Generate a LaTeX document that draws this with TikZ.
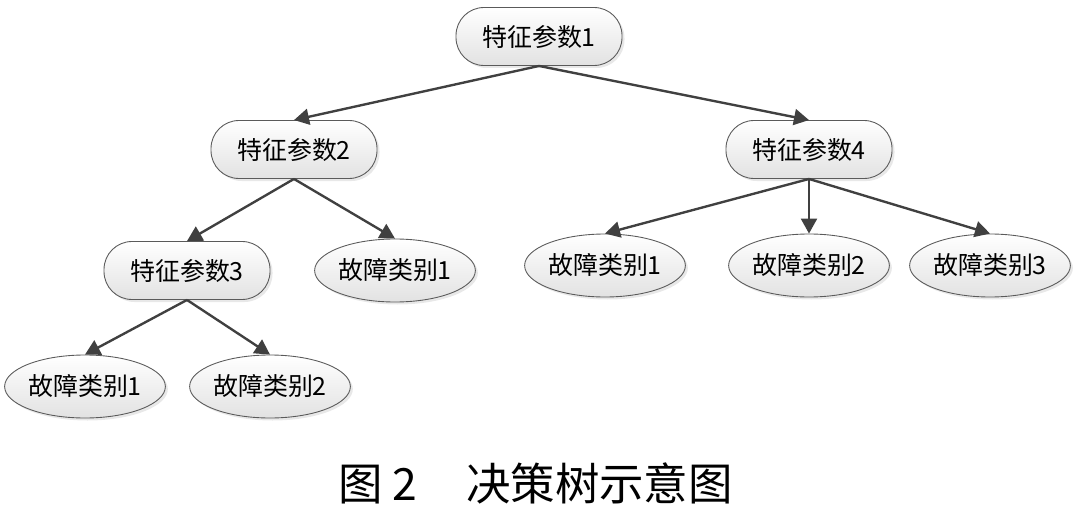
\documentclass[tikz,border=0pt]{standalone}
\usepackage{fontspec}
\usepackage{tikz}
\usetikzlibrary{shapes.geometric, arrows.meta, positioning, shadows}
\usepackage{xcolor}
\newfontfamily\cjk{Noto Sans CJK SC}
\definecolor{lineGray}{HTML}{404040}
\definecolor{borderGray}{HTML}{5A5A5A}
\definecolor{fillGray}{HTML}{E2E2E2}

\begin{document}
\begin{tikzpicture}[
    on grid,
    base/.style={draw=borderGray, line width=0.5pt, top color=white, bottom color=fillGray, drop shadow={shadow xshift=0.05cm, shadow yshift=-0.05cm, opacity=0.18}, font=\cjk\fontsize{14.2}{16}\selectfont, inner sep=0pt},
    param/.style={base, rectangle, rounded corners=0.56cm, minimum width=3.32cm, minimum height=1.16cm},
    leaf/.style={base, ellipse, minimum width=3.2cm, minimum height=1.26cm},
    arrow/.style={-{Triangle[length=0.3cm, width=0.32cm]}, line width=1.35pt, draw=lineGray},
]
    \useasboundingbox (0,0) rectangle (21.56,-10.22);

    % Root
    \node[param] (p1) at (10.78,-0.73) {特征参数1};

    % Second level
    \node[param, below left=2.26cm and 4.9cm of p1] (p2) {特征参数2};
    \node[param, below right=2.26cm and 5.4cm of p1] (p4) {特征参数4};

    % Under p2
    \node[param, below left=2.42cm and 2.14cm of p2] (p3) {特征参数3};
    \node[leaf, below right=2.42cm and 2.02cm of p2] (c21) {故障类别1};

    % Under p4
    \node[leaf, below=2.32cm of p4] (c42) {故障类别2};
    \node[leaf, left=4.08cm of c42] (c41) {故障类别1};
    \node[leaf, right=3.62cm of c42] (c43) {故障类别3};

    % Under p3
    \node[leaf, below left=2.32cm and 2.04cm of p3] (c31) {故障类别1};
    \node[leaf, below right=2.32cm and 1.66cm of p3] (c32) {故障类别2};

    % Caption
    \node[font=\cjk\fontsize{25.3}{28}\selectfont] (cap) at (10.71,-9.66) {图 2\hspace{1.1em}决策树示意图};

    % Arrows
    \draw[arrow] (p1.south) -- (p2.north);
    \draw[arrow] (p1.south) -- (p4.north);
    \draw[arrow] (p2.south) -- (p3.north);
    \draw[arrow] (p2.south) -- (c21.north);
    \draw[arrow] (p3.south) -- (c31.north);
    \draw[arrow] (p3.south) -- (c32.north);
    \draw[arrow] (p4.south) -- (c41.north);
    \draw[arrow] (p4.south) -- (c42.north);
    \draw[arrow] (p4.south) -- (c43.north);
\end{tikzpicture}
\end{document}
